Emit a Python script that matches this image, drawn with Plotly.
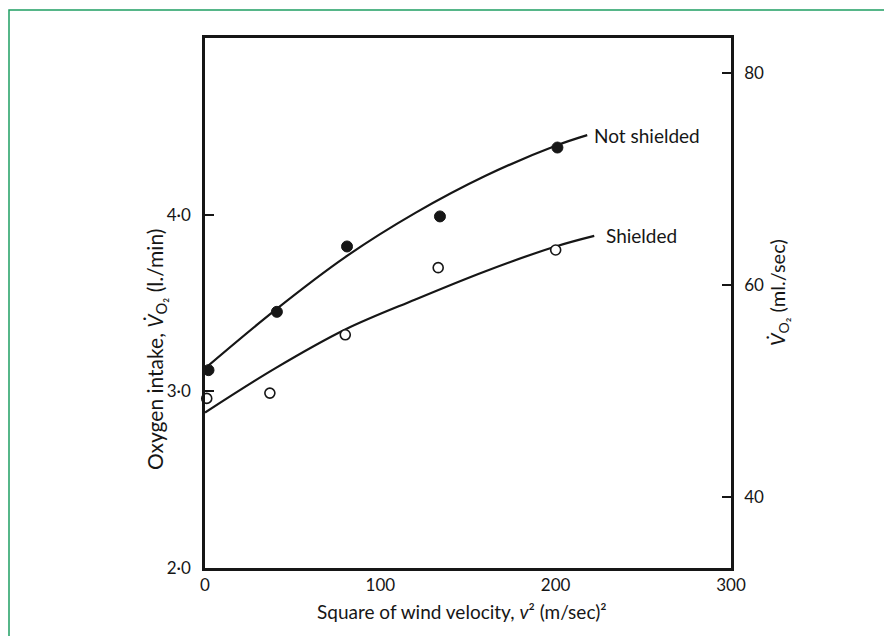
import plotly.graph_objects as go

# Data
ns_x = [2, 41, 81, 134, 201]
ns_y = [3.12, 3.45, 3.82, 3.99, 4.38]
sh_x = [1, 37, 80, 133, 200]
sh_y = [2.96, 2.99, 3.32, 3.70, 3.80]

# hand-drawn fitted curves
ns_curve_x = [0, 40, 80, 120, 160, 200, 218]
ns_curve_y = [3.13, 3.46, 3.76, 4.01, 4.22, 4.39, 4.45]
sh_curve_x = [0, 40, 80, 120, 160, 200, 222]
sh_curve_y = [2.88, 3.13, 3.35, 3.52, 3.68, 3.82, 3.88]

x_ticks = [0, 100, 200, 300]
y_ticks = [2.0, 3.0, 4.0]
y_ticktext = ["2·0", "3·0", "4·0"]
y2_ticks = [40, 60, 80]

FONT = "Lato"
INK = "#161616"

# page offset from the browser's default body margin
OFF = 8
PL, PT, PW, PH = 205, 38, 526, 530          # plot area in page pixels
FW, FH = 892 - 2 * OFF, 644 - 2 * OFF       # figure size


def px(x):
    return (x - PL) / PW


def py(y):
    return (PT + PH - y) / PH


fig = go.Figure()
fig.add_trace(go.Scatter(x=ns_curve_x, y=ns_curve_y, mode="lines",
                         line=dict(color=INK, width=2.2, shape="spline"),
                         showlegend=False, hoverinfo="skip"))
fig.add_trace(go.Scatter(x=sh_curve_x, y=sh_curve_y, mode="lines",
                         line=dict(color=INK, width=2.2, shape="spline"),
                         showlegend=False, hoverinfo="skip"))
fig.add_trace(go.Scatter(x=ns_x, y=ns_y, mode="markers", name="Not shielded",
                         marker=dict(symbol="circle", size=11, color=INK,
                                     line=dict(color=INK, width=1)),
                         showlegend=False, cliponaxis=False))
fig.add_trace(go.Scatter(x=sh_x, y=sh_y, mode="markers", name="Shielded",
                         marker=dict(symbol="circle", size=10, color="white",
                                     line=dict(color=INK, width=1.6)),
                         showlegend=False, cliponaxis=False))
# invisible trace so the right-hand axis is drawn
fig.add_trace(go.Scatter(x=[0], y=[60], yaxis="y2", mode="markers",
                         marker=dict(opacity=0), showlegend=False, hoverinfo="skip"))

fig.add_annotation(x=218, y=4.45, text="Not shielded", showarrow=False,
                   xanchor="left", yanchor="middle", xshift=5,
                   font=dict(family=FONT, size=19, color=INK))
fig.add_annotation(x=222, y=3.88, text="Shielded", showarrow=False,
                   xanchor="left", yanchor="middle", xshift=10,
                   font=dict(family=FONT, size=19, color=INK))

# axis titles as annotations
fig.add_annotation(xref="paper", yref="paper", x=px(156), y=py(350),
                   text="Oxygen intake, <i>V̇</i><sub>O₂</sub> (l./min)",
                   textangle=-90, showarrow=False, xanchor="center", yanchor="middle",
                   font=dict(family=FONT, size=21, color=INK))
fig.add_annotation(xref="paper", yref="paper", x=px(778), y=py(293),
                   text="<i>V̇</i><sub>O₂</sub> (ml./sec)",
                   textangle=-90, showarrow=False, xanchor="center", yanchor="middle",
                   font=dict(family=FONT, size=20, color=INK))
fig.add_annotation(xref="paper", yref="paper", x=px(462), y=py(611),
                   text="Square of wind velocity, <i>v</i>² (m/sec)²",
                   showarrow=False, xanchor="center", yanchor="middle",
                   font=dict(family=FONT, size=19, color=INK))

# green outer frame
fig.add_shape(type="rect", xref="paper", yref="paper",
              x0=px(OFF + 1), x1=px(900), y0=py(700), y1=py(10),
              line=dict(color="#1f9e63", width=1.5), layer="below")

fig.update_layout(
    width=FW, height=FH,
    margin=dict(l=PL - OFF, r=FW - (PL - OFF) - PW, t=PT - OFF,
                b=FH - (PT - OFF) - PH),
    paper_bgcolor="white", plot_bgcolor="white",
    font=dict(family=FONT, size=17, color=INK),
    xaxis=dict(range=[0, 300], tickvals=x_ticks, showgrid=False, zeroline=False,
               showline=True, linecolor=INK, linewidth=2.5, mirror=True,
               ticks="", ticklabelstandoff=0,
               tickfont=dict(family=FONT, size=17, color=INK)),
    yaxis=dict(range=[2.0, 5.0], tickvals=y_ticks, ticktext=y_ticktext,
               showgrid=False, zeroline=False, showline=True, linecolor=INK,
               linewidth=2.5, ticks="inside", ticklen=9, tickwidth=2, tickcolor=INK,
               ticklabelstandoff=8,
               tickfont=dict(family=FONT, size=17, color=INK)),
    yaxis2=dict(range=[2.0 / 0.06, 5.0 / 0.06], tickvals=y2_ticks, overlaying="y",
                side="right", showgrid=False, zeroline=False, showline=True,
                linecolor=INK, linewidth=2.5, ticks="inside", ticklen=9, tickwidth=2,
                tickcolor=INK, ticklabelstandoff=7,
                tickfont=dict(family=FONT, size=17, color=INK)),
)

fig.write_html("out.html")
